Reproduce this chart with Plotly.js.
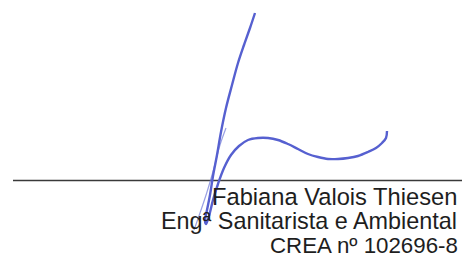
<!DOCTYPE html>
<html>
<head>
<meta charset="utf-8">
<script src="https://cdn.plot.ly/plotly-3.0.1.min.js"></script>
<style>html,body{margin:0;padding:0;background:#fff;}#chart{width:462px;height:262px;}</style>
</head>
<body>
<div id="chart"></div>
<script>
// Signature stroke (main): long descending stroke, loop and rising wave
const strokeMainX = [255, 250, 244, 238, 232, 226, 221, 217, 213, 210, 207, 205, 206, 209, 213, 218, 224, 231, 239, 248, 258, 268, 278, 288, 298, 308, 318, 328, 338, 348, 358, 368, 376, 382, 386, 387];
const strokeMainY = [13, 28, 45, 63, 85, 108, 132, 155, 176, 195, 210, 221, 224, 216, 200, 184, 168, 155, 146, 140, 138, 138, 140, 144, 149, 154, 157, 159, 159, 158, 156, 152, 148, 143, 138, 131];
// Thin secondary stroke
const strokeThinX = [226, 220, 214, 207, 200, 194];
const strokeThinY = [128, 145, 168, 192, 213, 230];
// Signature line
const ruleX = [13, 462];
const ruleY = [180.5, 180.5];
// Text lines
const textLines = ["Fabiana Valois Thiesen", "Engª Sanitarista e Ambiental", "CREA nº 102696-8"];
const textY = [196.5, 220.5, 245];
const textX = [458.5, 458.5, 460];
const textSize = [23.7, 23.4, 22.3];

const ink = 'rgb(86,96,208)';
const traces = [
  {x: ruleX, y: ruleY, mode: 'lines', line: {color: '#3a3a3a', width: 1.6}, hoverinfo: 'skip'},
  {x: strokeThinX, y: strokeThinY, mode: 'lines', line: {color: 'rgba(110,120,215,0.7)', width: 1.2, shape: 'spline'}, hoverinfo: 'skip'},
  {x: strokeMainX, y: strokeMainY, mode: 'lines', line: {color: ink, width: 2.4, shape: 'spline'}, hoverinfo: 'skip'}
];
const annotations = textLines.map((t, i) => ({
  x: textX[i], y: textY[i], xref: 'x', yref: 'y', text: t, showarrow: false,
  xanchor: 'right', yanchor: 'middle',
  font: {family: 'Liberation Sans, Arial, sans-serif', size: textSize[i], color: '#1e1e1e'}
}));
const layout = {
  width: 462, height: 262,
  margin: {l: 0, r: 0, t: 0, b: 0, pad: 0},
  paper_bgcolor: '#fff', plot_bgcolor: '#fff',
  showlegend: false,
  xaxis: {range: [0, 462], visible: false, fixedrange: true},
  yaxis: {range: [262, 0], visible: false, fixedrange: true},
  annotations: annotations
};
Plotly.newPlot('chart', traces, layout, {staticPlot: true, displayModeBar: false});
</script>
</body>
</html>
